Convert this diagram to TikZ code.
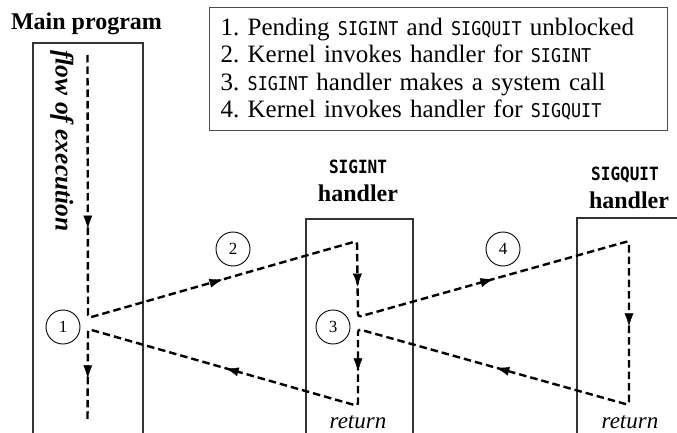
\documentclass[tikz,border=0pt]{standalone}
\usepackage{fontspec}
\setmainfont{Liberation Serif}
\newfontfamily\sigfont[Scale=0.76,FakeStretch=0.88]{DejaVu Sans Mono}
\usetikzlibrary{arrows.meta,decorations.markings}
\newcommand{\sig}[1]{{\sigfont #1}}
\frenchspacing
\begin{document}
\begin{tikzpicture}[x=1pt,y=-1pt,
  box/.style={draw=black!80,line width=2pt,inner sep=0pt,anchor=north west},
  flow/.style={line width=2.4pt,dash pattern=on 7.5pt off 4pt,line join=round,rounded corners=3pt},
  num/.style={draw,circle,line width=0.9pt,minimum size=34pt,inner sep=0pt,font=\fontsize{17}{17}\selectfont},
  midarrow/.style={postaction={decorate},decoration={markings,mark=at position #1 with {\arrow{Latex[length=13pt,width=9pt]}}}},
  title/.style={anchor=base,font=\fontsize{24}{24}\selectfont\bfseries},
  sigtitle/.style={anchor=base,font=\fontsize{24}{24}\selectfont\sigfont\bfseries},
  retlabel/.style={anchor=base,font=\fontsize{23}{23}\selectfont\itshape},
]
\useasboundingbox (0,0) rectangle (677,433);

% boxes (open at the bottom / right, beyond the page)
\node[box,minimum width=110pt,minimum height=420pt] (mainbox) at (32,42) {};
\node[box,minimum width=107pt,minimum height=300pt] (intbox) at (305,218) {};
\node[box,minimum width=200pt,minimum height=300pt] (quitbox) at (576,217) {};

% titles
\node[title] (maintitle) at (86.5,30) {Main program};
\node[sigtitle] (inttitle) at (358,173) {SIGINT};
\node[title] (inthdl) at (358,201) {handler};
\node[sigtitle] (quittitle) at (625,180) {SIGQUIT};
\node[title] (quithdl) at (629,208) {handler};

\node[rotate=-90,font=\fontsize{25.5}{25.5}\selectfont\bfseries\itshape] (flowlbl) at (62,141) {flow of execution};
\node[retlabel] (intret) at (358,428) {return};
\node[retlabel] (quitret) at (630,428) {return};

% legend
\node[draw=black!70,line width=1.2pt,anchor=north west,minimum width=458pt,minimum height=123pt,
      text width=436pt,inner xsep=11pt,align=left,font=\fontsize{25}{27.6}\selectfont] (legend) at (209,7)
  {1. Pending \sig{SIGINT} and \sig{SIGQUIT} unblocked\\
   2. Kernel invokes handler for \sig{SIGINT}\\
   3. \sig{SIGINT} handler makes a system call\\
   4. Kernel invokes handler for \sig{SIGQUIT}};

% numbered circles
\node[num] (c1) at (63,327) {1};
\node[num] (c2) at (233,249) {2};
\node[num] (c3) at (333,327) {3};
\node[num] (c4) at (503,249) {4};

% route of execution
\coordinate (m0) at (87.5,55);
\coordinate (m1) at (88,318);
\coordinate (i0) at (357,241);
\coordinate (i1) at (358,317);
\coordinate (q0) at (629,241);
\coordinate (q1) at (629,405);
\coordinate (i2) at (358,329);
\coordinate (i3) at (358,406);
\coordinate (m2) at (88,329);
\coordinate (m3) at (87.5,422);

\draw[flow] (m0) -- (m1) -- (i0) -- (i1) -- (q0) -- (q1) -- (i2) -- (i3) -- (m2) -- (m3);

\path[midarrow=0.66] (m0) -- (m1);
\path[midarrow=0.5] (m1) -- (i0);
\path[midarrow=0.6] (i0) -- (i1);
\path[midarrow=0.5] (i1) -- (q0);
\path[midarrow=0.52] (q0) -- (q1);
\path[midarrow=0.49] (q1) -- (i2);
\path[midarrow=0.55] (i2) -- (i3);
\path[midarrow=0.49] (i3) -- (m2);
\path[midarrow=0.53] (m2) -- (m3);
\end{tikzpicture}
\end{document}
